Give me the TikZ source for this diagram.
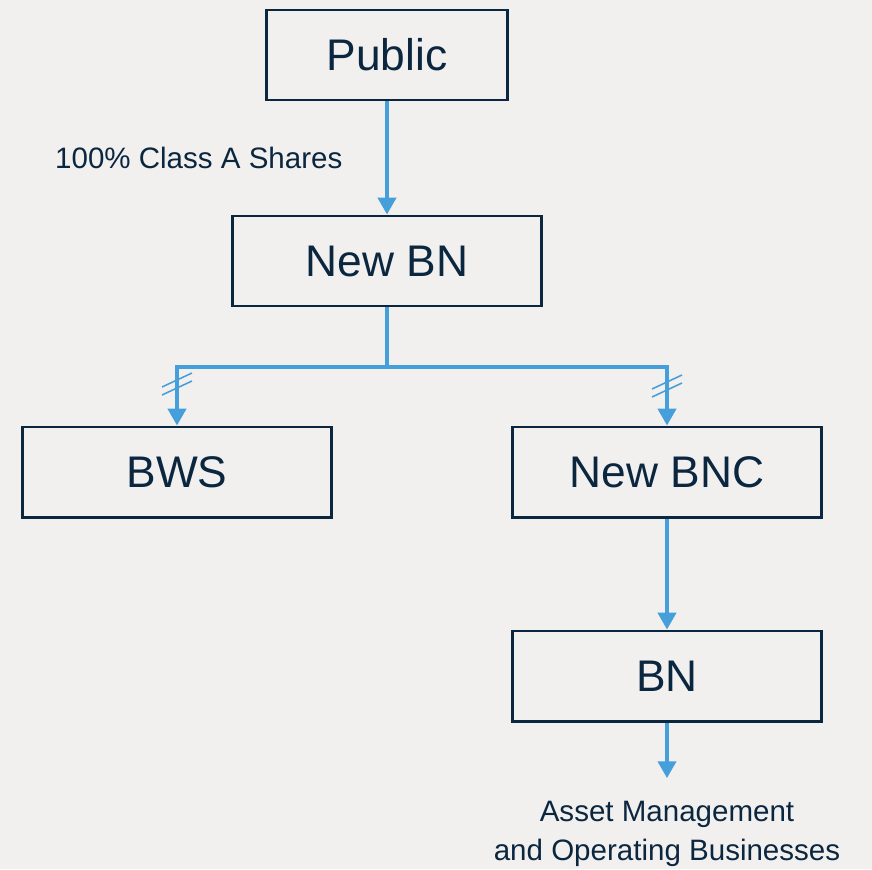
\documentclass[tikz,border=0pt]{standalone}
\usepackage{fontspec}
\setmainfont{Liberation Sans}
\usetikzlibrary{arrows.meta,positioning}
\definecolor{navy}{HTML}{0B2740}
\definecolor{linkblue}{HTML}{449FDB}
\definecolor{paper}{HTML}{F2F0EE}

\begin{document}
\begin{tikzpicture}[x=0.025cm,y=-0.025cm,
   entity/.style={draw=navy,line width=2.1pt,minimum width=7.7cm,minimum height=2.25cm,
      inner sep=0pt,text=navy,font=\fontsize{31.5}{36}\selectfont},
   own/.style={draw=linkblue,line width=2.7pt,-{Triangle[length=0.42cm,width=0.45cm]}},
   tick/.style={draw=linkblue,line width=1.1pt},
   note/.style={text=navy,font=\fontsize{21}{28}\selectfont,align=center}]
\fill[paper] (0,0) rectangle (872,869);
\useasboundingbox (0,0) rectangle (872,869);

% entities
\node[entity,minimum width=6cm] (public) at (387,55) {Public};
\node[entity] (newbn)  at (387,261) {New BN};
\node[entity] (bws)    at (177,472) {BWS};
\node[entity] (newbnc) at (667,472) {New BNC};
\node[entity] (bn)     at (667,676) {BN};
\node[note] (ops) at (667,834) {Asset Management\\and Operating Businesses};

% ownership links
\draw[own] (public) -- node[note,left=0.95cm,pos=0.5] (shares) {100\% Class A Shares} (newbn);
\coordinate (split) at (387,367);
\draw[draw=linkblue,line width=2.7pt] (newbn.south) -- (split);
\draw[own] (split) -| (bws.north);
\draw[own] (split) -| (newbnc.north);
\draw[own] (newbnc) -- (bn);
\draw[own] (bn.south) -- ([yshift=0.45cm]ops.north);

% break marks
\foreach \x/\y in {177/384,667/386} {
   \draw[tick] (\x-15,\y+3) -- (\x+15,\y-11);
   \draw[tick] (\x-15,\y+11) -- (\x+15,\y-3);
}
\end{tikzpicture}
\end{document}
